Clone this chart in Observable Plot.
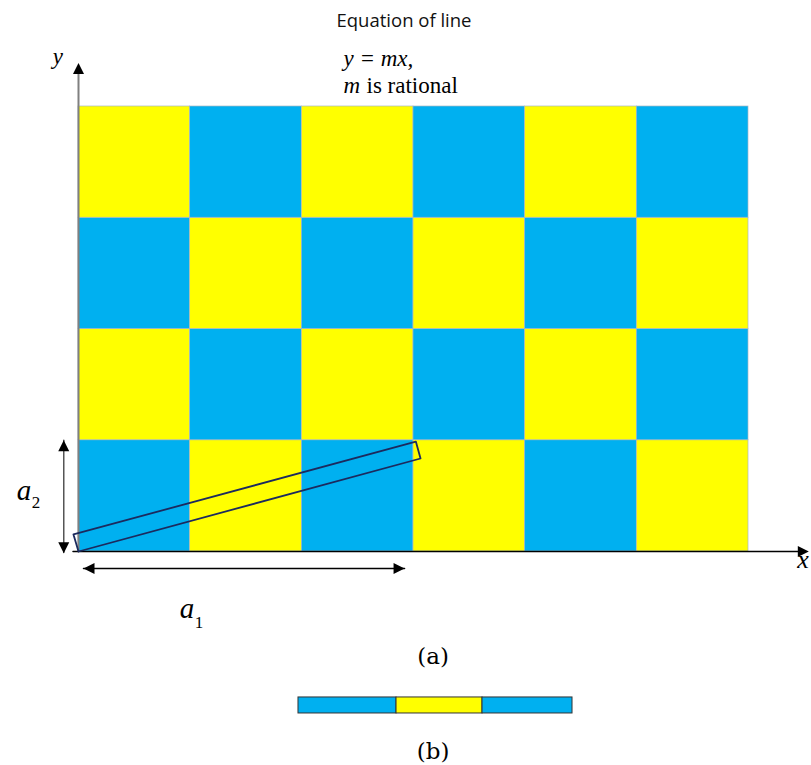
<!DOCTYPE html>
<html><head><meta charset="utf-8">
<script src="https://cdn.jsdelivr.net/npm/d3@7"></script>
<script src="https://cdn.jsdelivr.net/npm/@observablehq/plot@0.6"></script>
<style>body{margin:0;background:#fff}</style>
</head><body><div id="chart"></div>
<script>
// Checkerboard: columns and rows in cell units (rows listed bottom to top); B = blue cell, Y = yellow cell
const columns = [0, 1, 2, 3, 4, 5];
const rows = [0, 1, 2, 3];
const cellColors = [
  ["B", "Y", "B", "Y", "B", "Y"],
  ["Y", "B", "Y", "B", "Y", "B"],
  ["B", "Y", "B", "Y", "B", "Y"],
  ["Y", "B", "Y", "B", "Y", "B"]
];
// Thin rectangle around the line y = m x (corners, cell units)
const stripX = [0, 3.063, 3.021, -0.045, 0];
const stripY = [0, 0.836, 0.988, 0.153, 0];
// Bar (b): segment boundaries and colours
const segmentBounds = [1.970, 2.848, 3.618, 4.424];
const segmentColors = ["B", "Y", "B"];
const segmentY = [-1.312, -1.456];
// Axis and dimension arrows: shafts and arrow tips
const shafts = [
  {name: "yAxis", x: [0, 0], y: [0, 4.32], stroke: "#808080", w: 2},
  {name: "xAxis", x: [-0.05, 6.47], y: [0, 0], stroke: "#000", w: 1.3},
  {name: "a2", x: [-0.132, -0.132], y: [-0.01, 1.0], stroke: "#555", w: 1.5},
  {name: "a1", x: [0.045, 2.92], y: [-0.153, -0.153], stroke: "#000", w: 1.5}
];
const tips = [
  {x: 0, y: 4.39, dir: "up"},
  {x: 6.54, y: 0, dir: "right"},
  {x: -0.132, y: 1.0, dir: "up"},
  {x: -0.132, y: -0.015, dir: "down"},
  {x: 0.045, y: -0.153, dir: "left"},
  {x: 2.92, y: -0.153, dir: "right"}
];
// Labels
const titleText = "Equation of line";
const equationText = "y = mx,";
const mText = "m";
const rationalText = "is rational";

const cells = rows.flatMap(r => columns.map(c => ({x1: c, x2: c + 1, y1: r, y2: r + 1, color: cellColors[r][c]})));
const strip = stripX.map((x, i) => ({x, y: stripY[i]}));
const segments = segmentColors.map((color, i) => ({x1: segmentBounds[i], x2: segmentBounds[i + 1], y1: segmentY[0], y2: segmentY[1], color}));

function headSymbol(dir) {
  return {
    draw(ctx, size) {
      const k = Math.sqrt(size / Math.PI);
      ctx.moveTo(0, 0);
      if (dir === "right") { ctx.lineTo(-2 * k, -k); ctx.lineTo(-2 * k, k); }
      else if (dir === "left") { ctx.lineTo(2 * k, -k); ctx.lineTo(2 * k, k); }
      else if (dir === "up") { ctx.lineTo(-k, 2 * k); ctx.lineTo(k, 2 * k); }
      else { ctx.lineTo(-k, -2 * k); ctx.lineTo(k, -2 * k); }
      ctx.closePath();
    }
  };
}

const serif = "Liberation Serif";
const marks = [
  Plot.rect(cells, {x1: "x1", x2: "x2", y1: "y1", y2: "y2", fill: "color", stroke: "#a7b7c4", strokeWidth: 0.7}),
  ...shafts.map(s => Plot.line(s.x.map((x, i) => ({x, y: s.y[i]})), {x: "x", y: "y", stroke: s.stroke, strokeWidth: s.w})),
  ...["up", "down", "left", "right"].map(dir => Plot.dot(tips.filter(t => t.dir === dir), {x: "x", y: "y", r: 5.5, symbol: headSymbol(dir), fill: "#000", stroke: "none"})),
  Plot.line(strip, {x: "x", y: "y", stroke: "#1c2a5e", strokeWidth: 1.8, curve: "linear"}),
  Plot.rect(segments, {x1: "x1", x2: "x2", y1: "y1", y2: "y2", fill: "color", stroke: "#333", strokeWidth: 1}),
  Plot.text([titleText], {x: 2.915, y: 4.766, text: d => d, fontFamily: "Open Sans", fontSize: 18.5, fill: "#111", textAnchor: "middle"}),
  Plot.text([equationText], {x: 2.373, y: 4.43, text: d => d, fontFamily: serif, fontStyle: "italic", fontSize: 23, fill: "#000", textAnchor: "start"}),
  Plot.text([mText], {x: 2.373, y: 4.19, text: d => d, fontFamily: serif, fontStyle: "italic", fontSize: 23, fill: "#000", textAnchor: "start"}),
  Plot.text([rationalText], {x: 2.579, y: 4.19, text: d => d, fontFamily: serif, fontSize: 23, fill: "#000", textAnchor: "start"}),
  Plot.text(["y"], {x: -0.184, y: 4.449, text: d => d, fontFamily: serif, fontStyle: "italic", fontSize: 23, fill: "#000", textAnchor: "middle"}),
  Plot.text(["x"], {x: 6.488, y: -0.069, text: d => d, fontFamily: serif, fontStyle: "italic", fontSize: 26, fill: "#000", textAnchor: "middle"}),
  Plot.text(["a"], {x: -0.488, y: 0.542, text: d => d, fontFamily: serif, fontStyle: "italic", fontSize: 29, fill: "#000", textAnchor: "middle"}),
  Plot.text(["2"], {x: -0.38, y: 0.441, text: d => d, fontFamily: serif, fontSize: 17, fill: "#000", textAnchor: "middle"}),
  Plot.text(["a"], {x: 0.972, y: -0.510, text: d => d, fontFamily: serif, fontStyle: "italic", fontSize: 29, fill: "#000", textAnchor: "middle"}),
  Plot.text(["1"], {x: 1.08, y: -0.637, text: d => d, fontFamily: serif, fontSize: 17, fill: "#000", textAnchor: "middle"}),
  Plot.text(["(a)"], {x: 3.175, y: -0.944, text: d => d, fontFamily: "DejaVu Serif", fontSize: 23, fill: "#000", textAnchor: "middle"}),
  Plot.text(["(b)"], {x: 3.175, y: -1.798, text: d => d, fontFamily: "DejaVu Serif", fontSize: 23, fill: "#000", textAnchor: "middle"})
];

const chart = Plot.plot({
  width: 811,
  height: 765,
  margin: 0,
  x: {domain: [0, 6], range: [78, 748], axis: null},
  y: {domain: [0, 4], range: [551, 106], axis: null},
  color: {type: "ordinal", domain: ["B", "Y"], range: ["#00b0f0", "#ffff00"]},
  style: {background: "#fff", fontFamily: serif, overflow: "visible"},
  marks
});
document.getElementById("chart").appendChild(chart);
</script>
</body></html>
